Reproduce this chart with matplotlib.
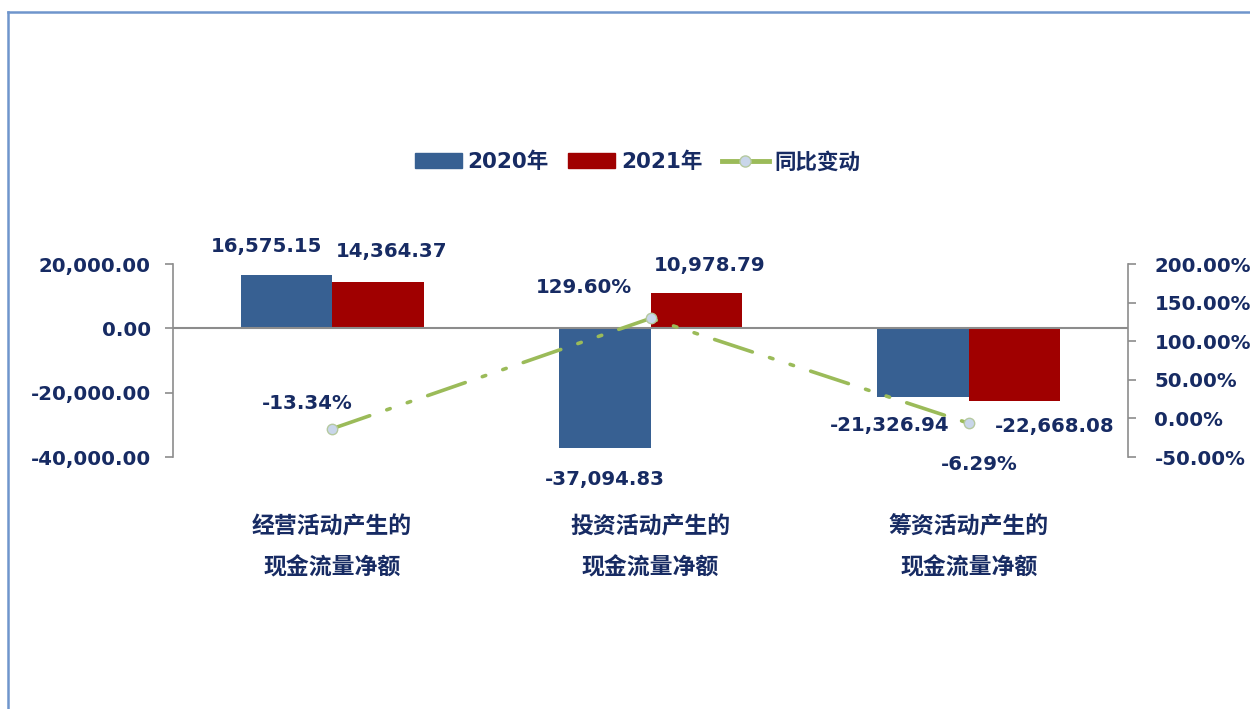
import matplotlib.pyplot as plt
from matplotlib.lines import Line2D
from matplotlib.patches import Patch
from matplotlib.ticker import FuncFormatter

plt.rcParams['font.family'] = ['DejaVu Sans', 'Noto Sans CJK SC']
plt.rcParams['font.weight'] = 'bold'

categories = ['经营活动产生的\n现金流量净额', '投资活动产生的\n现金流量净额', '筹资活动产生的\n现金流量净额']
v2020 = [16575.15, -37094.83, -21326.94]
v2021 = [14364.37, 10978.79, -22668.08]
yoy = [-13.34, 129.60, -6.29]

txt = '#172B63'
blue = '#376092'
red = '#A00000'
green = '#9BBB59'

fig = plt.figure(figsize=(12.5, 7.09), dpi=100)
ax = fig.add_axes([0.1384, 0.3554, 0.764, 0.2722])
ax2 = ax.twinx()

x = list(range(len(categories)))
w = 0.287
b1 = ax.bar([i - w / 2 for i in x], v2020, w, color=blue)
b2 = ax.bar([i + w / 2 for i in x], v2021, w, color=red)
ax.axhline(0, color='#8C8C8C', lw=1.5, zorder=1)

ax.set_xlim(-0.5, 2.5)
ax.set_ylim(-40000, 20000)
ax.set_yticks([-40000, -20000, 0, 20000])
ax.yaxis.set_major_formatter(FuncFormatter(lambda v, p: f'{v:,.2f}'))
ax.set_xticks(x, categories)
ax.tick_params(axis='x', length=0, pad=42, labelsize=16.5, labelcolor=txt)
ax.tick_params(axis='y', length=6, width=1.2, color='#8C8C8C', pad=10, labelsize=14.2, labelcolor=txt)
for lab in ax.get_xticklabels():
    lab.set_linespacing(2.0)
for s in ['top', 'bottom', 'right']:
    ax.spines[s].set_visible(False)
ax.spines['left'].set_color('#8C8C8C')
ax.spines['left'].set_linewidth(1.2)

ln, = ax2.plot(x, yoy, color=green, lw=2.6, linestyle=(0, (11, 5, 1, 5, 1, 5)),
               dash_capstyle='round', marker='o', markersize=7.5,
               markerfacecolor='#C9D6EA', markeredgecolor='#B5C9A0', markeredgewidth=1)
ax2.set_ylim(-50, 200)
ax2.set_yticks([-50, 0, 50, 100, 150, 200])
ax2.yaxis.set_major_formatter(FuncFormatter(lambda v, p: f'{v:.2f}%'))
ax2.tick_params(axis='y', length=6, width=1.2, color='#8C8C8C', pad=13, labelsize=14.2, labelcolor=txt)
for s in ['top', 'bottom', 'left']:
    ax2.spines[s].set_visible(False)
ax2.spines['right'].set_color('#8C8C8C')
ax2.spines['right'].set_linewidth(1.2)

# data labels
off20 = [(-20, 29), (0, -32), (-33, -29)]
off21 = [(14, 31), (13, 28), (40, -25)]
offp = [(-25, 25), (-67, 31), (10, -41)]
for i in x:
    ax.annotate(f'{v2020[i]:,.2f}', (i - w / 2, v2020[i]), xytext=off20[i], textcoords='offset pixels',
                ha='center', va='center', fontsize=14.2, color=txt)
    ax.annotate(f'{v2021[i]:,.2f}', (i + w / 2, v2021[i]), xytext=off21[i], textcoords='offset pixels',
                ha='center', va='center', fontsize=14.2, color=txt)
    ax2.annotate(f'{yoy[i]:.2f}%', (i, yoy[i]), xytext=offp[i], textcoords='offset pixels',
                 ha='center', va='center', fontsize=14.2, color=txt)

handles = [Patch(color=blue), Patch(color=red),
           Line2D([], [], color=green, lw=3.5, marker='o', markersize=8,
                  markerfacecolor='#C9D6EA', markeredgecolor='#B5C9A0')]
leg = fig.legend(handles, ['2020年', '2021年', '同比变动'], loc='center', bbox_to_anchor=(0.51, 0.7715),
                 ncol=3, frameon=False, fontsize=15.5, handlelength=2.2, handletextpad=0.25,
                 columnspacing=0.9)
for t in leg.get_texts():
    t.set_color(txt)

# outer chart border
fig.add_artist(Line2D([8 / 1250, 8 / 1250], [0, 1 - 12 / 709], color='#6F95CC', lw=1.8))
fig.add_artist(Line2D([8 / 1250, 1], [1 - 12 / 709, 1 - 12 / 709], color='#6F95CC', lw=1.8))

fig.savefig('out.png', dpi=100)
